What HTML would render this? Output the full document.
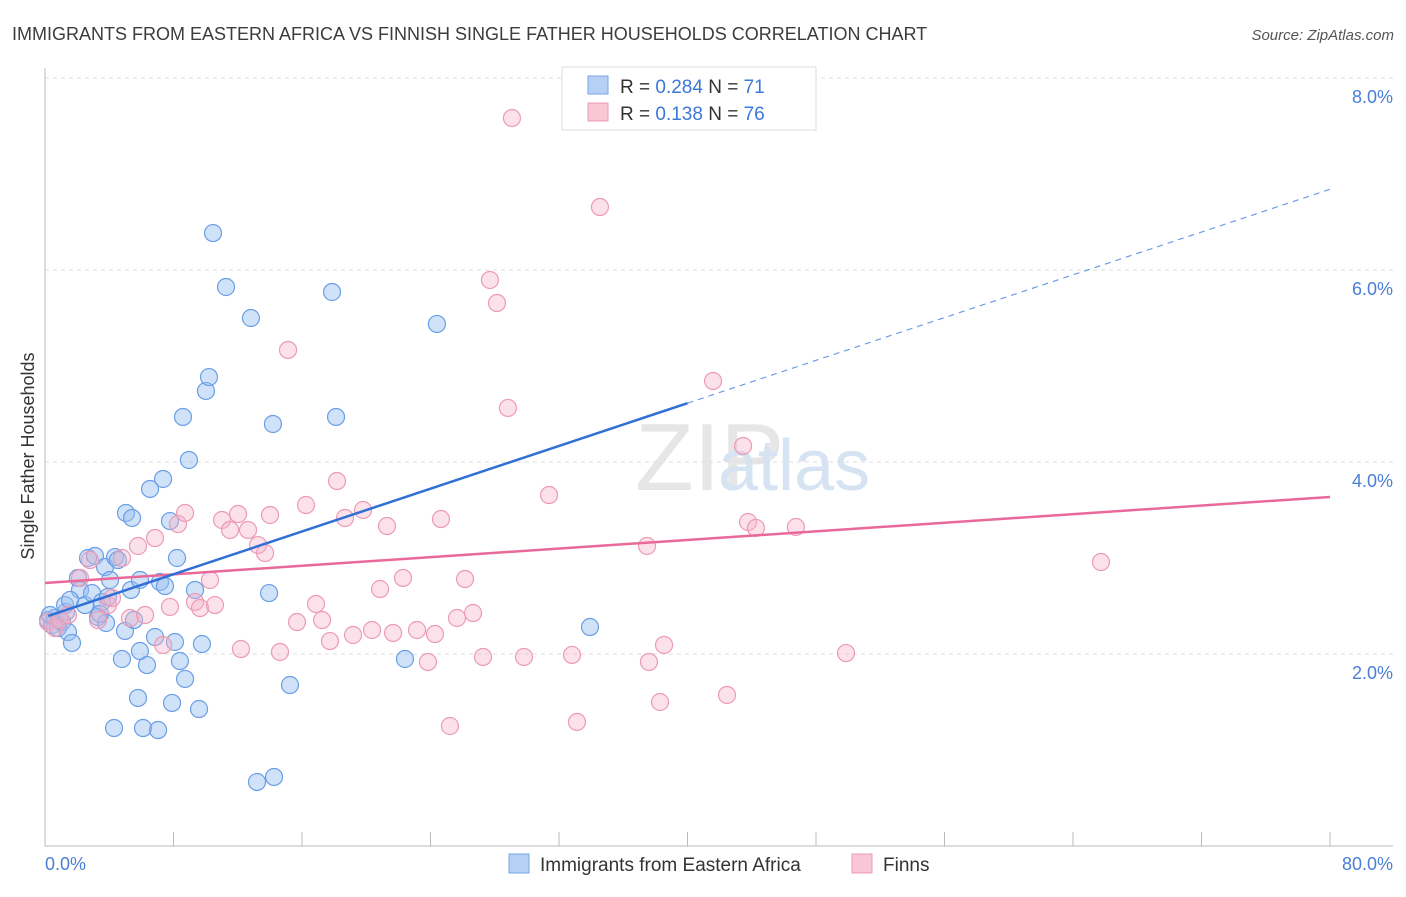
<!DOCTYPE html>
<html><head><meta charset="utf-8">
<style>
body{margin:0;background:#fff;font-family:"Liberation Sans",sans-serif;}
svg text{font-family:"Liberation Sans",sans-serif;}
</style></head>
<body>
<svg id="chart" width="1406" height="892" viewBox="0 0 1406 892" xmlns="http://www.w3.org/2000/svg">
<text x="12" y="40" font-size="18" fill="#3c3c3c">IMMIGRANTS FROM EASTERN AFRICA VS FINNISH SINGLE FATHER HOUSEHOLDS CORRELATION CHART</text>
<text x="1394" y="40" font-size="15" fill="#555" text-anchor="end" font-style="italic">Source: ZipAtlas.com</text>
<text x="635" y="490" font-size="96" fill="#e6e6e6" font-family="Liberation Serif">ZIP</text>
<text x="718" y="490" font-size="72" fill="#d5e3f3">atlas</text>
<g id="grid"></g>
<line x1="45" y1="68" x2="45" y2="846" stroke="#bbb"/>
<line x1="45" y1="846" x2="1393" y2="846" stroke="#bbb"/>
<g id="xticks"></g>
<g id="pts"></g>
<g id="lines"></g>
<text transform="translate(34,456) rotate(-90)" font-size="18" fill="#333" text-anchor="middle">Single Father Households</text>
<text x="45" y="870" font-size="18" fill="#4a7fd6">0.0%</text>
<text x="1393" y="870" font-size="18" fill="#4a7fd6" text-anchor="end">80.0%</text>
<g>
<rect x="562" y="67" width="254" height="63" fill="#fff" stroke="#ddd"/>
<rect x="588" y="76" width="20" height="18" fill="#b6d0f5" stroke="#7aa6e6"/>
<rect x="588" y="103" width="20" height="18" fill="#f8c6d5" stroke="#ec9ab4"/>
<text x="620" y="93" font-size="19" fill="#333">R = <tspan fill="#3b78d8">0.284</tspan>   N = <tspan fill="#3b78d8">71</tspan></text>
<text x="620" y="120" font-size="19" fill="#333">R =  <tspan fill="#3b78d8">0.138</tspan>   N = <tspan fill="#3b78d8">76</tspan></text>
</g>
<g>
<rect x="509" y="854" width="20" height="19" fill="#b6d0f5" stroke="#7aa6e6"/>
<text x="540" y="871" font-size="19" fill="#333">Immigrants from Eastern Africa</text>
<rect x="852" y="854" width="20" height="19" fill="#f8c6d5" stroke="#ec9ab4"/>
<text x="883" y="871" font-size="19" fill="#333">Finns</text>
</g>
</svg>
<script>
const yTicks=[2,4,6,8];
const yTickLabels=["2.0%","4.0%","6.0%","8.0%"];
const xTicks=[8,16,24,32,40,48,56,64,72,80];
const bluePx=[[48,620],[52,625],[55,618],[58,628],[62,622],[66,612],[68,632],[72,643],[65,605],[78,578],[80,590],[85,605],[88,558],[92,593],[95,556],[98,617],[102,602],[105,567],[108,597],[110,580],[106,623],[115,557],[118,560],[122,659],[125,631],[126,513],[131,590],[132,518],[134,620],[138,698],[140,651],[114,728],[143,728],[147,665],[150,489],[155,637],[158,730],[160,582],[163,479],[165,586],[170,521],[172,703],[175,642],[177,558],[180,661],[183,417],[185,679],[189,460],[195,590],[199,709],[202,644],[206,391],[209,377],[213,233],[226,287],[251,318],[257,782],[269,593],[273,424],[274,777],[290,685],[332,292],[336,417],[405,659],[437,324],[590,627],[50,615],[60,620],[100,614],[70,600],[140,580]];
const pinkPx=[[48,622],[55,628],[60,620],[68,615],[80,578],[90,560],[98,620],[108,605],[112,598],[122,558],[130,618],[138,546],[145,615],[155,538],[163,645],[170,607],[178,524],[185,513],[195,602],[200,608],[210,580],[215,605],[222,520],[230,530],[238,514],[241,649],[248,530],[258,545],[265,553],[270,515],[280,652],[288,350],[297,622],[306,505],[316,604],[322,620],[330,641],[337,481],[345,518],[353,635],[363,510],[372,630],[380,589],[387,526],[393,633],[403,578],[417,630],[428,662],[435,634],[441,519],[450,726],[457,618],[465,579],[473,613],[483,657],[490,280],[497,303],[508,408],[512,118],[524,657],[549,495],[572,655],[577,722],[600,207],[647,546],[649,662],[660,702],[664,645],[713,381],[727,695],[743,446],[748,522],[756,528],[796,527],[846,653],[1101,562]];
// convert the read pixel estimates to data values (x in %, y in %)
const blueX=bluePx.map(p=>+((p[0]-45)/16.0625).toFixed(2));
const blueY=bluePx.map(p=>+((846-p[1])/96).toFixed(3));
const pinkX=pinkPx.map(p=>+((p[0]-45)/16.0625).toFixed(2));
const pinkY=pinkPx.map(p=>+((846-p[1])/96).toFixed(3));
const blueTrend=[2.385,0.0557]; // intercept, slope
const pinkTrend=[2.74,0.0112];
const blueSolidEnd=40;
const xS=v=>45+v*16.0625;
const yS=v=>846-v*96;
const NS="http://www.w3.org/2000/svg";
function mk(tag,attrs,parent){const e=document.createElementNS(NS,tag);for(const k in attrs)e.setAttribute(k,attrs[k]);parent.appendChild(e);return e;}
const grid=document.getElementById('grid');
yTicks.forEach((t,i)=>{
 const l=mk('line',{x1:45,x2:1393,y1:yS(t),y2:yS(t),stroke:'#ddd','stroke-dasharray':'4,4'},grid);
 
 
 const tx=mk('text',{x:1393,y:yS(t)+25,'font-size':18,fill:'#4a7fd6','text-anchor':'end'},grid);
 tx.textContent=yTickLabels[i];
 
 
});
const xt=document.getElementById('xticks');
xTicks.forEach(t=>{
 const l=mk('line',{x1:xS(t),x2:xS(t),y1:832,y2:846,stroke:'#bbb'},xt);
 
 
});
const pts=document.getElementById('pts');
blueX.forEach((x,i)=>{
 const c=mk('circle',{cx:xS(x),cy:yS(blueY[i]),r:8.5,fill:'rgba(150,190,240,0.45)',stroke:'#6a9ee6','stroke-width':1.2},pts);
 
 
});
pinkX.forEach((x,i)=>{
 const c=mk('circle',{cx:xS(x),cy:yS(pinkY[i]),r:8.5,fill:'rgba(245,180,200,0.4)',stroke:'#ee9ab5','stroke-width':1.2},pts);
 
 
});
const ln=document.getElementById('lines');
const f=(tr,x)=>tr[0]+tr[1]*x;
let a=mk('line',{x1:xS(0),y1:yS(f(pinkTrend,0)),x2:xS(80),y2:yS(f(pinkTrend,80)),stroke:'#e8699a','stroke-width':2.5},ln);


a=mk('line',{x1:xS(0.2),y1:yS(f(blueTrend,0.2)),x2:xS(blueSolidEnd),y2:yS(f(blueTrend,blueSolidEnd)),stroke:'#2f6fd6','stroke-width':2.5},ln);


a=mk('line',{x1:xS(blueSolidEnd),y1:yS(f(blueTrend,blueSolidEnd)),x2:xS(80),y2:yS(f(blueTrend,80)),stroke:'#6a9ee6','stroke-width':1.2,'stroke-dasharray':'6,5'},ln);


</script>
</body></html>
